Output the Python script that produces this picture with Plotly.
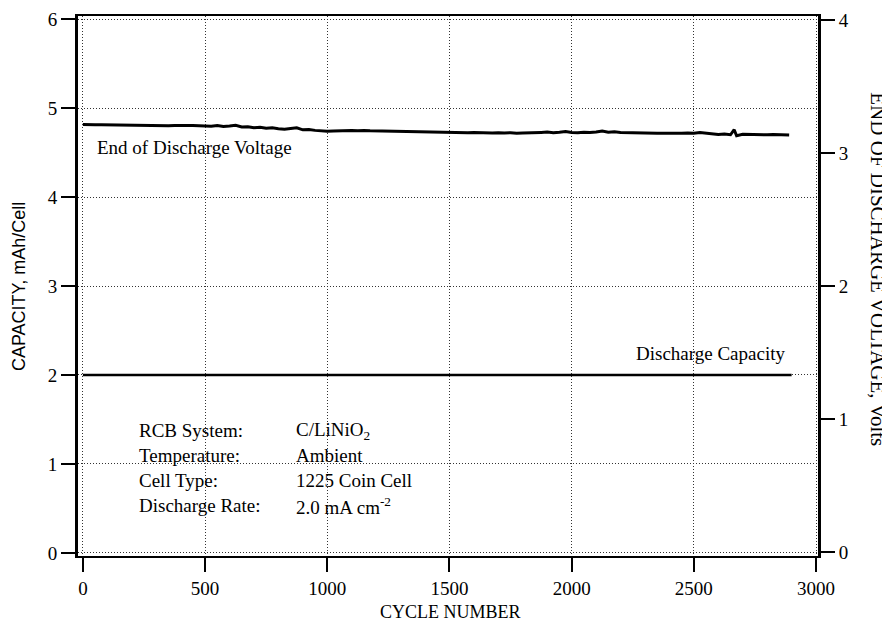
import plotly.graph_objects as go

# ---- data ----
volt_cycles = [0, 25, 50, 75, 100, 125, 150, 175, 200, 225, 250, 275, 300, 325, 350, 375,
               400, 425, 450, 475, 500, 525, 550, 575, 600, 625, 650, 675, 700, 725, 750, 775,
               800, 825, 850, 875, 900, 925, 950, 975, 1000, 1025, 1050, 1075, 1100, 1125, 1150,
               1175, 1200, 1225, 1250, 1275, 1300, 1325, 1350, 1375, 1400, 1425, 1450, 1475, 1500,
               1525, 1550, 1575, 1600, 1625, 1650, 1675, 1700, 1725, 1750, 1775, 1800, 1825, 1850,
               1875, 1900, 1925, 1950, 1975, 2000, 2025, 2050, 2075, 2100, 2125, 2150, 2175, 2200,
               2225, 2250, 2275, 2300, 2325, 2350, 2375, 2400, 2425, 2450, 2475, 2500, 2525, 2550,
               2575, 2600, 2625, 2650, 2665, 2675, 2700, 2725, 2750, 2775, 2800, 2825, 2850, 2875, 2890]
volt_values = [3.214, 3.216, 3.213, 3.212, 3.211, 3.210, 3.210, 3.209, 3.208, 3.209, 3.207, 3.208,
               3.206, 3.207, 3.205, 3.206, 3.204, 3.206, 3.207, 3.204, 3.206, 3.202, 3.207, 3.200,
               3.203, 3.208, 3.195, 3.198, 3.190, 3.194, 3.186, 3.189, 3.183, 3.179, 3.184, 3.190,
               3.174, 3.177, 3.170, 3.167, 3.163, 3.166, 3.168, 3.166, 3.169, 3.167, 3.170, 3.167,
               3.166, 3.167, 3.165, 3.163, 3.164, 3.162, 3.163, 3.160, 3.161, 3.159, 3.161, 3.158,
               3.157, 3.156, 3.154, 3.153, 3.155, 3.152, 3.154, 3.151, 3.153, 3.150, 3.153, 3.149,
               3.151, 3.154, 3.152, 3.155, 3.157, 3.153, 3.156, 3.161, 3.154, 3.152, 3.156, 3.154,
               3.158, 3.166, 3.156, 3.159, 3.155, 3.153, 3.151, 3.153, 3.150, 3.149, 3.148, 3.149,
               3.147, 3.146, 3.148, 3.151, 3.148, 3.154, 3.150, 3.142, 3.139, 3.143, 3.137, 3.175,
               3.130, 3.140, 3.138, 3.141, 3.139, 3.137, 3.139, 3.136, 3.138, 3.135]

cap_cycles = [0, 500, 1000, 1500, 2000, 2500, 2900]
cap_values = [2.0, 2.0, 2.0, 2.0, 2.0, 2.0, 2.0]

x_ticks = [0, 500, 1000, 1500, 2000, 2500, 3000]
y_left_ticks = [0, 1, 2, 3, 4, 5, 6]
y_right_ticks = [0, 1, 2, 3, 4]

info_labels = ["RCB System:", "Temperature:", "Cell Type:", "Discharge Rate:"]
info_values = ["C/LiNiO<sub>2</sub>", "Ambient", "1225 Coin Cell", "2.0 mA cm<sup>-2</sup>"]
info_rows_y = [1.371, 1.090, 0.809, 0.528]

SERIF = "Liberation Serif, Times New Roman, serif"
SANS = "Liberation Sans, Arial, sans-serif"

fig = go.Figure()
fig.add_trace(go.Scatter(x=cap_cycles, y=cap_values, mode="lines",
                         line=dict(color="black", width=2.5), yaxis="y", showlegend=False))
fig.add_trace(go.Scatter(x=volt_cycles, y=volt_values, mode="lines",
                         line=dict(color="black", width=3), yaxis="y2", showlegend=False))

grid = dict(showgrid=True, gridcolor="#333333", gridwidth=1, griddash="1px,2px")
tickfont = dict(family=SERIF, size=19, color="black")

# page body has an 8px margin, so the figure is sized/offset to compensate
fig.update_layout(
    width=882, height=613,
    margin=dict(l=70, r=72, t=8, b=65, autoexpand=False),
    paper_bgcolor="white", plot_bgcolor="white",
    xaxis=dict(range=[-20, 3008], tickvals=x_ticks, ticks="outside", ticklen=14, tickwidth=2,
               tickcolor="black", showline=True, linecolor="black", linewidth=2, mirror=True,
               zeroline=False, tickfont=tickfont, automargin=False, **grid),
    yaxis=dict(range=[-0.034, 6.034], tickvals=y_left_ticks, ticks="outside", ticklen=14,
               tickwidth=2, tickcolor="black", showline=True, linecolor="black", linewidth=3,
               zeroline=False, tickfont=tickfont, automargin=False, **grid),
    yaxis2=dict(range=[-0.03, 4.03], tickvals=y_right_ticks, overlaying="y", side="right",
                ticks="outside", ticklen=14, tickwidth=2, tickcolor="black", showline=True,
                linecolor="black", linewidth=3, zeroline=False, showgrid=False,
                tickfont=tickfont, automargin=False),
)

ann = []
ann.append(dict(text="CYCLE NUMBER", xref="paper", yref="paper", x=0.503, y=-0.104,
                xanchor="center", yanchor="middle", showarrow=False,
                font=dict(family=SERIF, size=18, color="black")))
ann.append(dict(text="CAPACITY, mAh/Cell", xref="paper", yref="paper", x=-0.0797, y=0.498,
                xanchor="center", yanchor="middle", textangle=-90, showarrow=False,
                font=dict(family=SANS, size=18, color="black")))
ann.append(dict(text="END OF DISCHARGE VOLTAGE, Volts", xref="paper", yref="paper", x=1.0811,
                y=0.531, xanchor="center", yanchor="middle", textangle=90, showarrow=False,
                font=dict(family=SERIF, size=21, color="black")))
ann.append(dict(text="End of Discharge Voltage", xref="x", yref="y", x=49, y=4.56,
                xanchor="left", yanchor="middle", showarrow=False,
                font=dict(family=SERIF, size=19, color="black")))
ann.append(dict(text="Discharge Capacity", xref="x", yref="y", x=2881, y=2.236,
                xanchor="right", yanchor="middle", showarrow=False,
                font=dict(family=SERIF, size=19, color="black")))
for lab, val, yy in zip(info_labels, info_values, info_rows_y):
    ann.append(dict(text=lab, xref="x", yref="y", x=221, y=yy, xanchor="left",
                    yanchor="middle", showarrow=False,
                    font=dict(family=SERIF, size=19, color="black")))
    ann.append(dict(text=val, xref="x", yref="y", x=864, y=yy, xanchor="left",
                    yanchor="middle", showarrow=False,
                    font=dict(family=SERIF, size=19, color="black")))
fig.update_layout(annotations=ann)

fig.write_html("out.html")
